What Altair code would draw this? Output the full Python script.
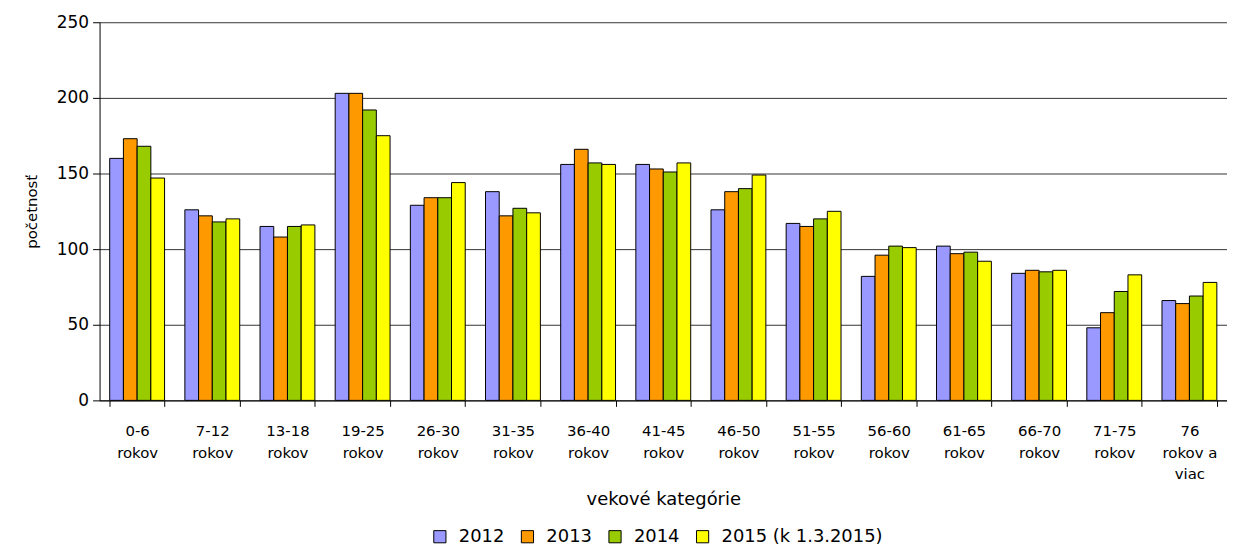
import altair as alt
import pandas as pd

categories = ["0-6 rokov", "7-12 rokov", "13-18 rokov", "19-25 rokov", "26-30 rokov",
              "31-35 rokov", "36-40 rokov", "41-45 rokov", "46-50 rokov", "51-55 rokov",
              "56-60 rokov", "61-65 rokov", "66-70 rokov", "71-75 rokov", "76 rokov a viac"]
series = ["2012", "2013", "2014", "2015 (k 1.3.2015)"]
v2012 = [160, 126, 115, 203, 129, 138, 156, 156, 126, 117, 82, 102, 84, 48, 66]
v2013 = [173, 122, 108, 203, 134, 122, 166, 153, 138, 115, 96, 97, 86, 58, 64]
v2014 = [168, 118, 115, 192, 134, 127, 157, 151, 140, 120, 102, 98, 85, 72, 69]
v2015 = [147, 120, 116, 175, 144, 124, 156, 157, 149, 125, 101, 92, 86, 83, 78]
colors = ["#9999FF", "#FF9900", "#99CC00", "#FFFF00"]

rows = []
for s, vals in zip(series, [v2012, v2013, v2014, v2015]):
    for c, v in zip(categories, vals):
        rows.append({"kategoria": c, "rok": s, "pocet": v})
df = pd.DataFrame(rows)

FONT = "DejaVu Sans"

label_expr = ("datum.label == '76 rokov a viac' ? ['76', 'rokov a', 'viac'] : "
              "split(datum.label, ' ')")

chart = alt.Chart(df).mark_bar(stroke="black", strokeWidth=1).encode(
    x=alt.X("kategoria:N", sort=categories,
            scale=alt.Scale(paddingInner=0.27, paddingOuter=0.135),
            axis=alt.Axis(title="vekové kategórie", labelAngle=0, labelExpr=label_expr,
                          labelFont=FONT, labelFontSize=15, labelColor="black",
                          labelLineHeight=22, labelPadding=17, labelBaseline="top",
                          tickBand="extent", tickSize=6, tickColor="black",
                          domainColor="black", grid=False,
                          titleFont=FONT, titleFontSize=18, titleFontWeight="normal",
                          titleColor="black", titlePadding=9)),
    xOffset=alt.XOffset("rok:N", sort=series, scale=alt.Scale(paddingInner=0, paddingOuter=0)),
    y=alt.Y("pocet:Q",
            scale=alt.Scale(domain=[0, 250], nice=False),
            axis=alt.Axis(title="početnosť", values=[0, 50, 100, 150, 200, 250],
                          labelFont=FONT, labelFontSize=17, labelColor="black",
                          labelPadding=4, tickSize=7, tickColor="black",
                          domainColor="black", gridColor="#333333", gridWidth=1,
                          titleFont=FONT, titleFontSize=15, titleFontWeight="normal",
                          titleColor="black", titlePadding=17)),
    color=alt.Color("rok:N", sort=series,
                    scale=alt.Scale(domain=series, range=colors),
                    legend=alt.Legend(title=None, orient="none", direction="horizontal",
                                      legendX=333, legendY=508,
                                      symbolType="square", symbolSize=150,
                                      symbolStrokeColor="black", symbolStrokeWidth=1,
                                      symbolOpacity=1,
                                      labelFont=FONT, labelFontSize=18, labelColor="black",
                                      labelOffset=10, columnPadding=14, labelLimit=400)),
).properties(
    width=1133, height=380,
    autosize=alt.AutoSizeParams(type="none"),
    padding={"left": 92, "top": 13, "right": 0, "bottom": 144},
).configure_view(stroke=None)

chart.save("out.html", embed_options={"renderer": "svg", "actions": False})
